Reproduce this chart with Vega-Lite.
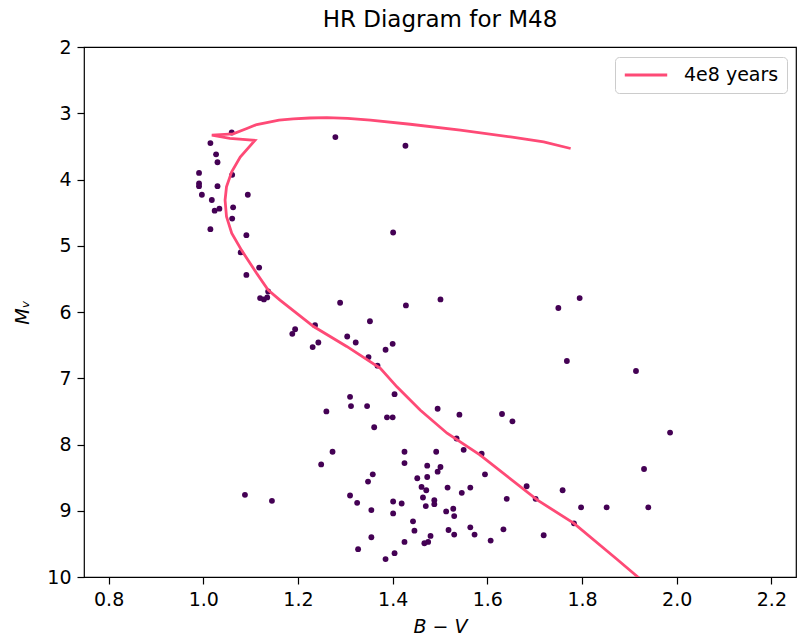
{
  "$schema": "https://vega.github.io/schema/vega-lite/v6.json",
  "width": 712,
  "height": 530,
  "autosize": {"type": "none"},
  "padding": {"left": 84, "top": 47, "right": 2, "bottom": 61},
  "background": "white",
  "config": {
    "font": "DejaVu Sans",
    "view": {"stroke": "black", "strokeWidth": 1.2},
    "axis": {
      "domain": false,
      "grid": false,
      "tickColor": "black",
      "tickWidth": 1.2,
      "tickSize": 7,
      "labelFont": "DejaVu Sans",
      "labelFontSize": 19,
      "labelColor": "black",
      "labelPadding": 6,
      "titleFont": "DejaVu Sans",
      "titleFontSize": 19,
      "titleFontWeight": "normal",
      "titleFontStyle": "italic",
      "titleColor": "black"
    }
  },
  "title": {
    "text": "HR Diagram for M48",
    "font": "DejaVu Sans",
    "fontSize": 23,
    "fontWeight": "normal",
    "color": "black",
    "anchor": "middle",
    "offset": 6
  },
  "datasets": {
    "stars": [
      {"bv": 1.060, "mv": 3.29}, {"bv": 1.279, "mv": 3.36}, {"bv": 1.427, "mv": 3.49},
      {"bv": 1.015, "mv": 3.45}, {"bv": 1.027, "mv": 3.62}, {"bv": 1.030, "mv": 3.74},
      {"bv": 0.991, "mv": 3.90}, {"bv": 1.061, "mv": 3.93}, {"bv": 0.991, "mv": 4.06},
      {"bv": 0.991, "mv": 4.10}, {"bv": 1.030, "mv": 4.10}, {"bv": 0.997, "mv": 4.23},
      {"bv": 1.094, "mv": 4.23}, {"bv": 1.018, "mv": 4.31}, {"bv": 1.024, "mv": 4.47},
      {"bv": 1.034, "mv": 4.44}, {"bv": 1.063, "mv": 4.42}, {"bv": 1.061, "mv": 4.59},
      {"bv": 1.015, "mv": 4.75}, {"bv": 1.091, "mv": 4.84}, {"bv": 1.401, "mv": 4.80},
      {"bv": 1.079, "mv": 5.10}, {"bv": 1.118, "mv": 5.33}, {"bv": 1.091, "mv": 5.44},
      {"bv": 1.120, "mv": 5.79}, {"bv": 1.128, "mv": 5.81}, {"bv": 1.135, "mv": 5.78},
      {"bv": 1.137, "mv": 5.69}, {"bv": 1.289, "mv": 5.86}, {"bv": 1.428, "mv": 5.90},
      {"bv": 1.501, "mv": 5.81}, {"bv": 1.795, "mv": 5.79}, {"bv": 1.750, "mv": 5.94},
      {"bv": 1.352, "mv": 6.14}, {"bv": 1.236, "mv": 6.20}, {"bv": 1.194, "mv": 6.26},
      {"bv": 1.188, "mv": 6.33}, {"bv": 1.304, "mv": 6.37}, {"bv": 1.322, "mv": 6.46},
      {"bv": 1.243, "mv": 6.46}, {"bv": 1.231, "mv": 6.53}, {"bv": 1.400, "mv": 6.48},
      {"bv": 1.385, "mv": 6.57}, {"bv": 1.349, "mv": 6.68}, {"bv": 1.368, "mv": 6.81},
      {"bv": 1.768, "mv": 6.74}, {"bv": 1.914, "mv": 6.89}, {"bv": 1.404, "mv": 7.24},
      {"bv": 1.310, "mv": 7.28}, {"bv": 1.312, "mv": 7.42}, {"bv": 1.346, "mv": 7.42},
      {"bv": 1.260, "mv": 7.50}, {"bv": 1.495, "mv": 7.46}, {"bv": 1.541, "mv": 7.55},
      {"bv": 1.631, "mv": 7.54}, {"bv": 1.653, "mv": 7.65}, {"bv": 1.388, "mv": 7.59},
      {"bv": 1.400, "mv": 7.59}, {"bv": 1.361, "mv": 7.74}, {"bv": 1.986, "mv": 7.82},
      {"bv": 1.535, "mv": 7.91}, {"bv": 1.550, "mv": 8.08}, {"bv": 1.588, "mv": 8.14},
      {"bv": 1.273, "mv": 8.11}, {"bv": 1.249, "mv": 8.30}, {"bv": 1.425, "mv": 8.11},
      {"bv": 1.425, "mv": 8.28}, {"bv": 1.492, "mv": 8.11}, {"bv": 1.473, "mv": 8.32},
      {"bv": 1.501, "mv": 8.34}, {"bv": 1.495, "mv": 8.41}, {"bv": 1.358, "mv": 8.45},
      {"bv": 1.452, "mv": 8.51}, {"bv": 1.473, "mv": 8.49}, {"bv": 1.595, "mv": 8.45},
      {"bv": 1.931, "mv": 8.37}, {"bv": 1.348, "mv": 8.56}, {"bv": 1.461, "mv": 8.64},
      {"bv": 1.471, "mv": 8.69}, {"bv": 1.516, "mv": 8.65}, {"bv": 1.564, "mv": 8.65},
      {"bv": 1.546, "mv": 8.73}, {"bv": 1.641, "mv": 8.82}, {"bv": 1.683, "mv": 8.63},
      {"bv": 1.702, "mv": 8.82}, {"bv": 1.759, "mv": 8.69}, {"bv": 1.798, "mv": 8.95},
      {"bv": 1.852, "mv": 8.95}, {"bv": 1.940, "mv": 8.95}, {"bv": 1.783, "mv": 9.19},
      {"bv": 1.310, "mv": 8.77}, {"bv": 1.325, "mv": 8.88}, {"bv": 1.355, "mv": 8.99},
      {"bv": 1.401, "mv": 8.86}, {"bv": 1.419, "mv": 8.89}, {"bv": 1.401, "mv": 9.04},
      {"bv": 1.464, "mv": 8.80}, {"bv": 1.488, "mv": 8.84}, {"bv": 1.488, "mv": 8.90},
      {"bv": 1.470, "mv": 8.93}, {"bv": 1.513, "mv": 9.01}, {"bv": 1.528, "mv": 8.97},
      {"bv": 1.530, "mv": 9.08}, {"bv": 1.443, "mv": 9.16}, {"bv": 1.446, "mv": 9.30},
      {"bv": 1.518, "mv": 9.29}, {"bv": 1.530, "mv": 9.36}, {"bv": 1.564, "mv": 9.25},
      {"bv": 1.573, "mv": 9.36}, {"bv": 1.607, "mv": 9.45}, {"bv": 1.634, "mv": 9.28},
      {"bv": 1.719, "mv": 9.37}, {"bv": 1.355, "mv": 9.40}, {"bv": 1.327, "mv": 9.58},
      {"bv": 1.425, "mv": 9.47}, {"bv": 1.480, "mv": 9.38}, {"bv": 1.475, "mv": 9.47},
      {"bv": 1.467, "mv": 9.49}, {"bv": 1.404, "mv": 9.64}, {"bv": 1.385, "mv": 9.73},
      {"bv": 1.088, "mv": 8.76}, {"bv": 1.145, "mv": 8.85}
    ],
    "iso": [
      {"order": 1, "bv": 1.966, "mv": 10.29, "series": "4e8 years"},
      {"order": 2, "bv": 1.918, "mv": 10.0, "series": "4e8 years"},
      {"order": 3, "bv": 1.875, "mv": 9.74, "series": "4e8 years"},
      {"order": 4, "bv": 1.783, "mv": 9.19, "series": "4e8 years"},
      {"order": 5, "bv": 1.706, "mv": 8.84, "series": "4e8 years"},
      {"order": 6, "bv": 1.585, "mv": 8.16, "series": "4e8 years"},
      {"order": 7, "bv": 1.515, "mv": 7.83, "series": "4e8 years"},
      {"order": 8, "bv": 1.458, "mv": 7.48, "series": "4e8 years"},
      {"order": 9, "bv": 1.409, "mv": 7.13, "series": "4e8 years"},
      {"order": 10, "bv": 1.374, "mv": 6.85, "series": "4e8 years"},
      {"order": 11, "bv": 1.303, "mv": 6.52, "series": "4e8 years"},
      {"order": 12, "bv": 1.233, "mv": 6.22, "series": "4e8 years"},
      {"order": 13, "bv": 1.162, "mv": 5.82, "series": "4e8 years"},
      {"order": 14, "bv": 1.137, "mv": 5.67, "series": "4e8 years"},
      {"order": 15, "bv": 1.113, "mv": 5.42, "series": "4e8 years"},
      {"order": 16, "bv": 1.081, "mv": 5.07, "series": "4e8 years"},
      {"order": 17, "bv": 1.060, "mv": 4.81, "series": "4e8 years"},
      {"order": 18, "bv": 1.049, "mv": 4.56, "series": "4e8 years"},
      {"order": 19, "bv": 1.046, "mv": 4.31, "series": "4e8 years"},
      {"order": 20, "bv": 1.049, "mv": 4.11, "series": "4e8 years"},
      {"order": 21, "bv": 1.060, "mv": 3.885, "series": "4e8 years"},
      {"order": 22, "bv": 1.078, "mv": 3.66, "series": "4e8 years"},
      {"order": 23, "bv": 1.109, "mv": 3.41, "series": "4e8 years"},
      {"order": 24, "bv": 1.056, "mv": 3.38, "series": "4e8 years"},
      {"order": 25, "bv": 1.018, "mv": 3.33, "series": "4e8 years"},
      {"order": 26, "bv": 1.063, "mv": 3.31, "series": "4e8 years"},
      {"order": 27, "bv": 1.092, "mv": 3.23, "series": "4e8 years"},
      {"order": 28, "bv": 1.113, "mv": 3.17, "series": "4e8 years"},
      {"order": 29, "bv": 1.134, "mv": 3.14, "series": "4e8 years"},
      {"order": 30, "bv": 1.160, "mv": 3.105, "series": "4e8 years"},
      {"order": 31, "bv": 1.190, "mv": 3.085, "series": "4e8 years"},
      {"order": 32, "bv": 1.225, "mv": 3.072, "series": "4e8 years"},
      {"order": 33, "bv": 1.261, "mv": 3.067, "series": "4e8 years"},
      {"order": 34, "bv": 1.305, "mv": 3.078, "series": "4e8 years"},
      {"order": 35, "bv": 1.353, "mv": 3.105, "series": "4e8 years"},
      {"order": 36, "bv": 1.437, "mv": 3.166, "series": "4e8 years"},
      {"order": 37, "bv": 1.543, "mv": 3.256, "series": "4e8 years"},
      {"order": 38, "bv": 1.649, "mv": 3.357, "series": "4e8 years"},
      {"order": 39, "bv": 1.719, "mv": 3.433, "series": "4e8 years"},
      {"order": 40, "bv": 1.776, "mv": 3.532, "series": "4e8 years"}
    ]
  },
  "layer": [
    {
      "data": {"name": "stars"},
      "mark": {"type": "point", "filled": true, "size": 34, "opacity": 1, "color": "#440154", "clip": true},
      "encoding": {
        "x": {
          "field": "bv", "type": "quantitative",
          "scale": {"domain": [0.748, 2.252], "nice": false, "zero": false},
          "axis": {"values": [0.8, 1.0, 1.2, 1.4, 1.6, 1.8, 2.0, 2.2], "format": ".1f", "title": "B − V", "titlePadding": 8}
        },
        "y": {
          "field": "mv", "type": "quantitative",
          "scale": {"domain": [2, 10], "reverse": true, "nice": false, "zero": false},
          "axis": {"values": [2, 3, 4, 5, 6, 7, 8, 9, 10], "format": "d", "title": "Mᵥ", "titlePadding": 14}
        }
      }
    },
    {
      "data": {"name": "iso"},
      "mark": {"type": "line", "strokeWidth": 2.8, "clip": true},
      "encoding": {
        "x": {"field": "bv", "type": "quantitative"},
        "y": {"field": "mv", "type": "quantitative"},
        "order": {"field": "order", "type": "quantitative"},
        "color": {
          "field": "series", "type": "nominal",
          "scale": {"domain": ["4e8 years"], "range": ["#fe4a76"]},
          "legend": {
            "orient": "none", "legendX": 531, "legendY": 10, "title": null,
            "symbolType": "stroke", "symbolSize": 1800, "symbolStrokeWidth": 3,
            "clipHeight": 20,
            "labelFont": "DejaVu Sans", "labelFontSize": 19, "labelColor": "black",
            "labelOffset": 15, "padding": 8,
            "strokeColor": "#cccccc", "fillColor": "rgba(255,255,255,0.8)", "cornerRadius": 4
          }
        }
      }
    }
  ]
}
